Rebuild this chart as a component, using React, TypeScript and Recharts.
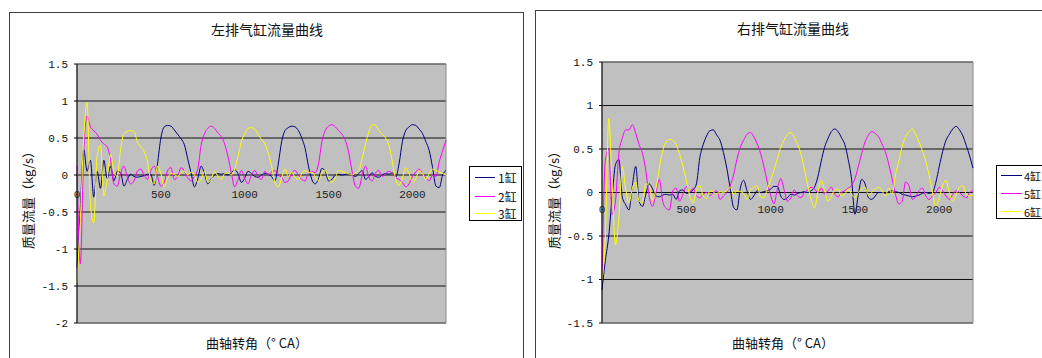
import { LineChart, Line, XAxis, YAxis, CartesianGrid, ReferenceArea, ReferenceDot } from 'recharts';

// crank angle samples (° CA)
const ANGLE = [
  0, 20, 40, 60, 80, 100, 120, 140, 160, 180,
  200, 220, 240, 260, 280, 300, 320, 340, 360, 380,
  400, 420, 440, 460, 480, 500, 520, 540, 560, 580,
  600, 620, 640, 660, 680, 700, 720, 740, 760, 780,
  800, 820, 840, 860, 880, 900, 920, 940, 960, 980,
  1000, 1020, 1040, 1060, 1080, 1100, 1120, 1140, 1160, 1180,
  1200, 1220, 1240, 1260, 1280, 1300, 1320, 1340, 1360, 1380,
  1400, 1420, 1440, 1460, 1480, 1500, 1520, 1540, 1560, 1580,
  1600, 1620, 1640, 1660, 1680, 1700, 1720, 1740, 1760, 1780,
  1800, 1820, 1840, 1860, 1880, 1900, 1920, 1940, 1960, 1980,
  2000, 2020, 2040, 2060, 2080, 2100, 2120, 2140, 2160, 2180,
  2200,
];

// left bank mass flow, kg/s
const CYL1 = [
  -1.25, -0.45, 0.35, 0.05, 0.2, -0.3, 0.05, -0.18, 0.2, -0.05,
  0.12, -0.08, 0.05, 0.03, -0.15, -0.06, 0.01, -0.02, -0.03, -0.02,
  -0.01, 0.01, 0.01, -0.14, 0.15, 0.5, 0.65, 0.67, 0.66, 0.61,
  0.55, 0.49, 0.41, 0.22, 0.03, -0.16, -0.05, 0.12, 0.02, -0.12,
  -0.05, 0.0, 0.02, 0.01, 0.02, 0.0, 0.03, 0.07, 0.02, -0.1,
  -0.04, 0.05, 0.02, -0.02, -0.03, 0.0, 0.02, 0.01, -0.02, -0.08,
  0.15, 0.45, 0.6, 0.64, 0.66, 0.65, 0.6, 0.5, 0.36, 0.12,
  -0.06, -0.12, -0.05, 0.09, 0.05, -0.08, -0.06, 0.0, 0.01, 0.0,
  0.01, 0.02, 0.0, -0.02, 0.02, 0.06, -0.06, -0.02, 0.03, -0.02,
  -0.03, 0.0, 0.02, 0.01, 0.03, -0.03, 0.15, 0.45, 0.6, 0.65,
  0.68, 0.67, 0.62, 0.56, 0.45, 0.33, 0.1, -0.15, -0.17, 0.0,
  0.06,
];
const CYL2 = [
  0.12, -1.2, 0.3, 0.8, 0.65, 0.6, 0.55, 0.47, 0.42, 0.38,
  0.2, -0.12, -0.15, 0.02, 0.12, -0.03, -0.12, -0.08, 0.05, 0.08,
  0.0, -0.06, 0.06, 0.12, -0.02, -0.15, -0.1, 0.06, 0.1, -0.06,
  -0.02, 0.1, 0.05, -0.04, -0.08, -0.02, 0.08, 0.4, 0.56, 0.63,
  0.66, 0.63, 0.57, 0.52, 0.42, 0.25, 0.03, -0.16, -0.06, 0.06,
  -0.05, -0.12, 0.0, 0.06, -0.02, -0.06, 0.05, 0.0, 0.04, 0.06,
  0.0, -0.03, -0.1, -0.08, 0.03, 0.06, 0.0, -0.06, -0.08, 0.03,
  0.05, 0.03, 0.15, 0.45, 0.6, 0.66, 0.68, 0.65, 0.6, 0.55,
  0.47, 0.3, 0.05, -0.15, -0.18, 0.0, 0.12, -0.03, -0.08, 0.03,
  0.06, -0.02, 0.02, 0.05, 0.02, -0.04, -0.06, -0.1, -0.16, -0.12,
  -0.02, 0.04, 0.08, 0.02, -0.04, -0.08, 0.0, -0.02, 0.18, 0.33,
  0.47,
];
const CYL3 = [
  -1.45, -0.6, 0.5, 0.98, -0.4, -0.65, 0.25, 0.4, -0.28, -0.05,
  0.28, 0.05, -0.02, 0.35, 0.56, 0.59, 0.6, 0.59, 0.45, 0.38,
  0.32, 0.18, -0.08, -0.12, 0.12, 0.02, -0.16, -0.05, 0.02, 0.01,
  -0.02, 0.03, 0.05, 0.0, 0.04, 0.0, -0.1, -0.06, 0.05, -0.1,
  -0.06, 0.05, -0.02, -0.06, 0.02, 0.03, 0.0, 0.08, 0.25, 0.45,
  0.56, 0.63, 0.64, 0.62, 0.55, 0.48, 0.42, 0.3, 0.12, -0.1,
  -0.16, -0.04, 0.08, -0.02, 0.04, -0.03, -0.06, 0.02, 0.06, 0.03,
  0.04, -0.02, -0.08, 0.04, 0.06, -0.04, -0.1, -0.04, 0.06, 0.05,
  0.03, 0.02, 0.0, 0.03, 0.06, 0.22, 0.42, 0.58, 0.68, 0.67,
  0.6, 0.55, 0.5, 0.4, 0.18, -0.06, -0.14, -0.04, 0.1, 0.02,
  -0.1, -0.05, 0.06, 0.02, -0.06, 0.02, 0.08, 0.06, 0.04, 0.02,
  0.0,
];

// right bank mass flow, kg/s
const CYL4 = [
  -1.12, -0.78, -0.5, -0.05, 0.32, 0.38, -0.05, -0.14, -0.2, 0.08,
  0.3, -0.1, -0.16, -0.02, 0.1, 0.04, -0.04, -0.05, -0.03, -0.02,
  -0.03, -0.02, -0.08, 0.02, 0.03, -0.01, 0.0, 0.03, 0.1, 0.4,
  0.55, 0.65, 0.71, 0.72, 0.66, 0.6, 0.46, 0.28, 0.05, -0.17,
  -0.2, 0.05, 0.14, 0.02, -0.08, -0.04, 0.02, 0.0, 0.01, 0.02,
  0.04, 0.07, 0.07, -0.04, -0.08, -0.06, -0.02, -0.03, -0.01, 0.0,
  0.01, 0.0, 0.02, 0.06, 0.18, 0.36, 0.52, 0.62, 0.7, 0.73,
  0.7, 0.63, 0.55, 0.38, 0.15, -0.25, -0.02, 0.15, 0.1, -0.06,
  -0.08, -0.04, 0.0, 0.0, -0.01, 0.01, 0.02, 0.01, 0.0, -0.02,
  -0.03, -0.04, -0.05, -0.04, -0.03, -0.01, 0.0, -0.01, 0.0, 0.12,
  0.3, 0.47, 0.6, 0.67, 0.73, 0.76, 0.72, 0.65, 0.54, 0.42,
  0.28,
];
const CYL5 = [
  -1.0, 0.37, 0.5, -0.25, -0.1, 0.45, 0.62, 0.72, 0.72, 0.78,
  0.68, 0.55, 0.45, 0.25, -0.05, -0.16, 0.0, 0.15, -0.1, -0.18,
  -0.2, 0.02, 0.05, -0.1, -0.02, 0.07, 0.0, 0.05, -0.04, -0.06,
  -0.02, 0.0, -0.04, 0.0, 0.02, -0.08, -0.04, 0.0, 0.08, 0.2,
  0.38, 0.52, 0.6, 0.67, 0.69, 0.64, 0.56, 0.45, 0.3, 0.12,
  -0.03, -0.13, 0.04, 0.16, 0.03, -0.1, -0.06, 0.03, -0.04, -0.06,
  0.0, 0.03, 0.06, 0.04, 0.0, 0.05, -0.02, 0.02, 0.06, -0.02,
  -0.05, 0.0, 0.02, 0.05, 0.08, 0.16, 0.3, 0.45, 0.58, 0.66,
  0.7, 0.68, 0.64, 0.56, 0.47, 0.33, 0.16, -0.02, -0.13, -0.1,
  0.12, 0.08, -0.08, -0.05, 0.02, 0.05, -0.04, -0.08, -0.04, 0.0,
  0.06, 0.02, -0.04, -0.08, -0.02, 0.02, 0.0, -0.04, -0.06, 0.0,
  0.02,
];
const CYL6 = [
  -1.0, -0.5, 0.85, 0.1, -0.6, -0.3, 0.3, 0.05, -0.12, 0.05,
  0.12, -0.1, -0.12, 0.1, 0.08, -0.1, 0.05, 0.28, 0.48, 0.58,
  0.61, 0.6, 0.55, 0.44, 0.3, 0.14, -0.04, -0.12, 0.02, 0.08,
  -0.04, -0.07, 0.02, 0.01, -0.02, 0.01, 0.0, 0.02, 0.06, -0.02,
  0.02, 0.01, -0.01, -0.08, 0.03, 0.06, 0.08, -0.05, -0.06, 0.04,
  0.14, 0.26, 0.39, 0.52, 0.6, 0.67, 0.69, 0.64, 0.55, 0.44,
  0.27, 0.08, -0.08, -0.18, 0.0, 0.14, 0.02, -0.1, -0.04, 0.03,
  0.04, -0.04, -0.02, 0.04, -0.02, -0.06, 0.0, 0.04, 0.06, -0.03,
  0.0, 0.04, 0.06, 0.02, -0.04, 0.05, -0.02, 0.2, 0.36, 0.53,
  0.64, 0.7, 0.73, 0.67, 0.58, 0.48, 0.36, 0.2, 0.0, -0.16,
  -0.06, 0.08, 0.14, 0.0, -0.1, -0.02, 0.06, 0.08, -0.02, -0.04,
  -0.03,
];

const LEFT_NAMES = ['1缸', '2缸', '3缸'];
const RIGHT_NAMES = ['4缸', '5缸', '6缸'];
const LEFT_TICKS = [-2, -1.5, -1, -0.5, 0, 0.5, 1, 1.5];
const RIGHT_TICKS = [-1.5, -1, -0.5, 0, 0.5, 1, 1.5];
const X_TICKS = [0, 500, 1000, 1500, 2000];

const COLORS = ['#000080', '#ff00ff', '#ffff00'];
const KEYS = ['a', 'b', 'c'];

const NUM_FONT = '"Liberation Mono", monospace';
const CJK_FONT = '"Noto Sans CJK SC", sans-serif';

const leftData = ANGLE.map((ca, i) => ({ ca, a: CYL1[i], b: CYL2[i], c: CYL3[i] }));
const rightData = ANGLE.map((ca, i) => ({ ca, a: CYL4[i], b: CYL5[i], c: CYL6[i] }));

interface PanelProps {
  left: number;
  width: number;
  title: string;
  data: Record<string, number>[];
  names: string[];
  yTicks: number[];
  margin: { top: number; right: number; bottom: number; left: number };
  yAxisWidth: number;
  frame: { left: number; top: number; width: number; height: number };
  titleX: number;
  titleY: number;
  xTitleX: number;
  yTitleX: number;
  labelOffset: number;
  legend: { left: number; top: number; width: number; height: number; rows: number[]; lineLeft: number; lineWidth: number; textLeft: number; fontSize: number };
}

function Panel(p: PanelProps) {
  const yMin = p.yTicks[0];
  const yMax = p.yTicks[p.yTicks.length - 1];
  return (
    <div style={{ position: 'absolute', left: p.left, top: 0, width: p.width, height: 358 }}>
      <div
        style={{
          position: 'absolute',
          left: p.frame.left,
          top: p.frame.top,
          width: p.frame.width,
          height: p.frame.height,
          border: '1px solid #404040',
          boxSizing: 'border-box',
        }}
      />
      <div
        style={{
          position: 'absolute',
          left: p.titleX - 100,
          top: p.titleY - 9,
          width: 200,
          lineHeight: '18px',
          textAlign: 'center',
          fontFamily: CJK_FONT,
          fontSize: 14,
          color: '#111',
        }}
      >
        {p.title}
      </div>
      <div style={{ position: 'absolute', left: 0, top: 0 }}>
        <LineChart width={p.width} height={358} data={p.data} margin={p.margin}>
          <CartesianGrid vertical={false} stroke="#111" fill="#c0c0c0" fillOpacity={1} />
          <ReferenceArea x1={0} x2={2200} y1={yMin} y2={yMax} fill="none" stroke="#8a8a8a" />
          <XAxis dataKey="ca" type="number" domain={[0, 2200]} hide />
          <YAxis
            type="number"
            domain={[yMin, yMax]}
            ticks={p.yTicks}
            interval={0}
            width={p.yAxisWidth}
            stroke="#000"
            tickSize={3}
            tickMargin={6}
            tickFormatter={(v: number) => String(v)}
            tick={{ fontFamily: NUM_FONT, fontSize: 11, fill: '#111' }}
          />
          {KEYS.map((k, i) => (
            <Line
              key={k}
              dataKey={k}
              name={p.names[i]}
              type="monotone"
              stroke={COLORS[i]}
              strokeWidth={1}
              dot={false}
              isAnimationActive={false}
            />
          ))}
          {X_TICKS.map((t) => (
            <ReferenceDot
              key={t}
              x={t}
              y={0}
              r={0}
              fill="none"
              stroke="none"
              ifOverflow="visible"
              label={{
                value: String(t),
                position: 'bottom',
                offset: p.labelOffset,
                fontFamily: NUM_FONT,
                fontSize: 11,
                fill: '#222',
              }}
            />
          ))}
        </LineChart>
      </div>
      <div
        style={{
          position: 'absolute',
          left: p.yTitleX,
          top: 197,
          transform: 'translate(-50%, -50%) rotate(-90deg)',
          whiteSpace: 'nowrap',
          fontFamily: CJK_FONT,
          fontSize: 13,
          color: '#111',
        }}
      >
        质量流量（kg/s）
      </div>
      <div
        style={{
          position: 'absolute',
          left: p.xTitleX - 100,
          top: 334,
          width: 200,
          lineHeight: '18px',
          textAlign: 'center',
          fontFamily: CJK_FONT,
          fontSize: 13,
          color: '#111',
        }}
      >
        曲轴转角（° CA）
      </div>
      <div
        style={{
          position: 'absolute',
          left: p.legend.left,
          top: p.legend.top,
          width: p.legend.width,
          height: p.legend.height,
          border: '1px solid #000',
          boxSizing: 'border-box',
          background: '#fff',
        }}
      >
        {p.names.map((n, i) => (
          <div key={n} style={{ position: 'absolute', left: 0, top: p.legend.rows[i] - 8, height: 16, width: 80 }}>
            <div
              style={{
                position: 'absolute',
                left: p.legend.lineLeft,
                top: 7,
                width: p.legend.lineWidth,
                height: 1,
                background: COLORS[i],
              }}
            />
            <span
              style={{
                position: 'absolute',
                left: p.legend.textLeft,
                top: 0,
                lineHeight: '16px',
                fontFamily: CJK_FONT,
                fontSize: p.legend.fontSize,
                color: '#111',
                whiteSpace: 'nowrap',
              }}
            >
              {n}
            </span>
          </div>
        ))}
      </div>
    </div>
  );
}

export default function App() {
  return (
    <div
      style={{
        position: 'absolute',
        left: 0,
        top: 0,
        width: 1042,
        height: 358,
        overflow: 'hidden',
        background: '#fff',
      }}
    >
      <Panel
        left={0}
        width={530}
        title="左排气缸流量曲线"
        data={leftData}
        names={LEFT_NAMES}
        yTicks={LEFT_TICKS}
        margin={{ top: 64, right: 84, bottom: 35, left: 0 }}
        yAxisWidth={77}
        frame={{ left: 9, top: 12, width: 515, height: 400 }}
        titleX={267}
        titleY={29}
        xTitleX={257}
        yTitleX={27}
        labelOffset={15}
        legend={{ left: 469, top: 166, width: 53, height: 55, rows: [10.7, 29.7, 47.3], lineLeft: 5, lineWidth: 20, textLeft: 28, fontSize: 12 }}
      />
      <Panel
        left={530}
        width={512}
        title="右排气缸流量曲线"
        data={rightData}
        names={RIGHT_NAMES}
        yTicks={RIGHT_TICKS}
        margin={{ top: 62, right: 69, bottom: 35, left: 0 }}
        yAxisWidth={72}
        frame={{ left: 5, top: 10, width: 600, height: 400 }}
        titleX={263}
        titleY={28}
        xTitleX={253}
        yTitleX={23}
        labelOffset={13}
        legend={{ left: 466, top: 165, width: 60, height: 54, rows: [10, 27.7, 45.7], lineLeft: 4, lineWidth: 21, textLeft: 27, fontSize: 11 }}
      />
    </div>
  );
}
